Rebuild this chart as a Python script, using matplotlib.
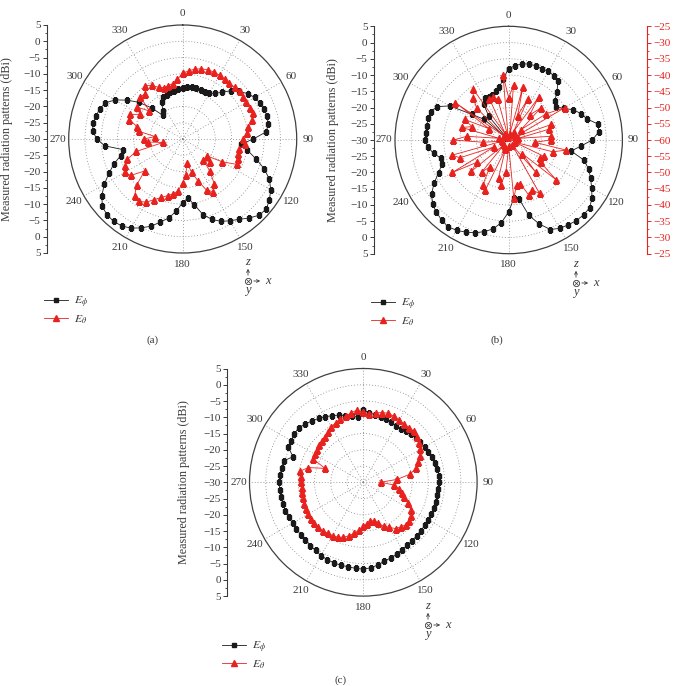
import numpy as np
import matplotlib
matplotlib.use("Agg")
import matplotlib.pyplot as plt
from matplotlib.lines import Line2D
from matplotlib.patches import FancyArrowPatch

plt.rcParams['font.family'] = 'serif'
plt.rcParams['font.serif'] = ['Liberation Serif', 'DejaVu Serif']
plt.rcParams['mathtext.fontset'] = 'stix'

# measurement angles (deg), one sample every 5 degrees
angles = np.arange(0, 360, 5)

# (a) measured patterns, dBi
a_ephi = [-14.2, -14.0, -13.9, -13.9, -14.0, -14.0, -13.8, -12.9, -11.3, -9.0, -7.3, -5.7,
          -4.5, -3.8, -3.4, -3.1, -3.4, -4.2, -8.3, -12.0, -9.8, -6.8, -3.4, -0.6,
          1.2, 2.5, 3.5, 3.1, 1.7, 0.1, -1.0, -2.1, -3.7, -6.0, -9.5, -11.8,
          -10.5, -7.8, -5.4, -3.6, -1.5, 0.1, 1.6, 2.6, 3.0, 2.9, 2.2, 0.3,
          -2.2, -5.0, -7.5, -10.3, -11.3, -6.0, -3.6, -2.3, -2.0, -2.5, -2.9, -3.8,
          -6.0, -9.2, -12.5, -16.5, -20.5, -19.5, -17.0, -15.8, -15.5, -15.2, -15.0, -14.6]
a_etheta = [-9.8, -9.0, -8.2, -7.7, -7.4, -7.3, -7.4, -7.6, -7.7, -7.5, -7.2, -7.3,
            -7.4, -7.3, -7.0, -8.0, -9.5, -10.3, -11.5, -10.8, -12.4, -12.5, -11.8, -11.5,
            -16.0, -21.0, -19.0, -21.0, -17.0, -13.0, -11.3, -12.7, -16.3, -19.5, -22.5, -19.0,
            -16.6, -14.0, -12.9, -12.0, -10.9, -9.5, -7.6, -6.6, -7.0, -10.0, -14.7, -10.5,
            -9.5, -10.5, -11.9, -15.3, -23.9, -19.3, -18.0, -21.5, -16.3, -15.5, -12.6, -12.2,
            -14.8, -13.0, -16.6, -11.6, -12.0, -10.0, -11.0, -12.5, -13.2, -13.0, -12.7, -11.6]

# (b) E_phi on the left scale, E_theta on the right (red) scale
b_ephi = [-8.0, -7.0, -6.2, -5.8, -5.7, -5.8, -5.6, -5.8, -6.3, -9.0, -11.5, -12.2,
          -10.5, -8.0, -6.3, -5.0, -2.0, -2.2, -4.3, -7.8, -10.5, -6.0, -3.8, -2.2,
          -0.5, 1.3, 2.5, 2.6, 2.4, 1.9, 1.4, 0.4, -2.5, -6.0, -11.5, -12.0,
          -7.9, -4.5, -2.2, -0.8, 0.4, 1.3, 2.1, 2.6, 2.1, 1.5, 0.6, -1.0,
          -3.5, -6.2, -8.1, -8.4, -6.5, -5.0, -4.3, -4.3, -4.4, -4.3, -4.5, -5.7,
          -9.0, -16.3, -20.1, -29.0, -20.5, -16.5, -15.2, -15.3, -15.2, -14.5, -13.5, -11.0]
b_etheta = [-47, -43, -58, -43, -52, -46, -57, -44, -50, -46, -55, -46,
            -40, -58, -46, -47, -57, -47, -47, -52, -42, -46, -58, -48,
            -49, -48, -41, -54, -47, -58, -41, -43, -42, -46, -46, -42,
            -58, -50, -46, -48, -57, -43, -44, -50, -47, -58, -45, -48,
            -40, -55, -44, -42, -58, -52, -43, -47, -57, -45, -48, -45,
            -53, -40, -58, -46, -43, -41, -58, -46, -46, -47, -59, -40]

# (c)
c_ephi = [-7.8, -8.5, -8.9, -9.1, -9.4, -9.7, -9.9, -9.9, -9.6, -9.2, -8.9, -8.6,
          -8.2, -7.9, -7.5, -7.1, -6.9, -6.6, -6.6, -6.8, -6.9, -7.0, -7.0, -6.9,
          -6.9, -6.9, -6.9, -6.8, -6.6, -6.4, -6.1, -5.7, -5.3, -4.9, -4.2, -3.6,
          -3.3, -3.4, -3.6, -3.6, -3.6, -3.8, -4.0, -4.4, -4.6, -4.8, -4.9, -4.9,
          -4.9, -4.7, -4.5, -4.4, -4.2, -4.2, -4.2, -4.3, -4.5, -4.6, -7.0, -4.6,
          -4.3, -4.1, -4.0, -4.6, -5.4, -6.0, -6.7, -7.4, -8.0, -8.8, -9.4, -9.8]
c_etheta = [-8.5, -8.9, -8.3, -7.8, -7.4, -7.6, -8.0, -8.2, -8.0, -7.9, -8.4, -9.0,
            -9.7, -10.8, -12.0, -13.3, -15.3, -19.5, -24.7, -20.5, -19.0, -17.8, -16.8, -14.7,
            -13.1, -12.0, -11.6, -11.5, -12.1, -12.6, -14.0, -15.1, -16.6, -17.8, -17.8, -17.2,
            -16.5, -15.2, -14.1, -13.0, -12.0, -11.4, -11.1, -10.9, -10.5, -10.4, -10.3, -10.2,
            -10.3, -10.5, -10.7, -10.9, -11.0, -11.0, -10.9, -10.7, -10.3, -12.5, -17.5, -12.8,
            -12.7, -12.6, -12.3, -12.0, -11.7, -11.1, -10.4, -9.8, -9.3, -9.0, -8.3, -7.7]

angle_labels = [str(a) for a in range(0, 360, 30)]

W, H = 674, 686
TXT = '#3a3a3a'
BLK = '#1a1a1a'
RED = '#e8231f'
FS = 8


def frac(x, y):
    """image pixel (origin top-left) -> figure fraction"""
    return x / W, 1 - y / H


def closed(vals):
    th = np.deg2rad(np.append(angles, angles[0]))
    return th, np.append(vals, vals[0])


def polar_panel(fig, cx, cy, R):
    ax = fig.add_axes([(cx - R) / W, 1 - (cy + R) / H, 2 * R / W, 2 * R / H],
                      projection='polar')
    ax.set_theta_zero_location('N')
    ax.set_theta_direction(-1)
    ax.set_ylim(-30, 5)
    ax.set_yticks([-25, -20, -15, -10, -5, 0])
    ax.set_yticklabels([])
    ax.set_thetagrids(range(0, 360, 30), angle_labels)
    ax.tick_params(axis='x', labelsize=FS, colors=TXT, pad=1, direction='in', length=3)
    ax.grid(True, color='#808080', lw=0.6, ls=(0, (1, 2.5)))
    ax.spines['polar'].set_color('#404040')
    ax.spines['polar'].set_linewidth(0.9)
    return ax


def draw_series(ax, vals, color, marker, ms):
    th, v = closed(vals)
    ax.plot(th, v, color=color, lw=0.6, marker=marker, ms=ms, mec=color, mfc=color)


def dbi_scale(fig, x, cy, R, offset, color, right=False):
    ax = fig.add_axes([x / W, 1 - (cy + R) / H, 0.0001, 2 * R / H])
    ax.set_ylim(-35, 35)
    ticks = np.arange(-35, 36, 5)
    ax.set_yticks(ticks)
    ax.set_yticklabels([str(abs(t) + offset).replace('-', '\u2212') for t in ticks])
    ax.set_yticks(np.arange(-32.5, 33, 5), minor=True)
    ax.xaxis.set_visible(False)
    for s in ['top', 'bottom', 'left', 'right']:
        ax.spines[s].set_visible(False)
    side = 'right' if right else 'left'
    ax.spines[side].set_visible(True)
    ax.spines[side].set_color(color)
    ax.spines[side].set_linewidth(0.8)
    if right:
        ax.yaxis.tick_right()
    ax.tick_params(axis='y', which='major', labelsize=FS, colors=color, length=3, width=0.7, pad=1.5)
    ax.tick_params(axis='y', which='minor', colors=color, length=1.5, width=0.6)
    ax.patch.set_alpha(0)
    return ax


def axes_symbol(fig, x, y):
    # small z / x / y (out of page) frame symbol, x,y = centre of the circle in pixels
    kw = dict(transform=fig.transFigure, arrowstyle='->', mutation_scale=5, lw=0.6, color=TXT)
    fig.add_artist(FancyArrowPatch(frac(x, y - 3), frac(x, y - 15), **kw))
    fig.add_artist(FancyArrowPatch(frac(x + 3, y), frac(x + 15, y), **kw))
    cxy = frac(x, y)
    fig.add_artist(Line2D([cxy[0]], [cxy[1]], marker='o', ms=4.5, mfc='white', mec=TXT, mew=0.6,
                          transform=fig.transFigure))
    fig.add_artist(Line2D([cxy[0]], [cxy[1]], marker='x', ms=2.8, mec=TXT, mew=0.5,
                          transform=fig.transFigure))
    fig.text(*frac(x, y - 19), 'z', style='italic', fontsize=FS + 1, color=TXT, ha='center', va='center')
    fig.text(*frac(x + 20, y), 'x', style='italic', fontsize=FS + 1, color=TXT, ha='center', va='center')
    fig.text(*frac(x, y + 9), 'y', style='italic', fontsize=FS + 1, color=TXT, ha='center', va='center')


def legend(fig, x, y):
    handles = [Line2D([], [], color=BLK, lw=0.6, marker='s', ms=3.2),
               Line2D([], [], color=RED, lw=0.6, marker='^', ms=3.8)]
    fig.legend(handles, [r'$E_\phi$', r'$E_\theta$'], loc='upper left', bbox_to_anchor=frac(x, y),
               frameon=False, fontsize=FS + 0.5, handlelength=2.0, handletextpad=0.5,
               labelspacing=0.25, borderpad=0, borderaxespad=0, labelcolor=TXT)


fig = plt.figure(figsize=(W / 100, H / 100), dpi=100)
ylab = 'Measured radiation patterns (dBi)'
YFS = 8.7

# panel (a)
ax_a = polar_panel(fig, 182.7, 139, 114)
draw_series(ax_a, a_ephi, BLK, 's', 3.2)
draw_series(ax_a, a_etheta, RED, '^', 3.8)
dbi_scale(fig, 46.7, 139, 114, -30, TXT)
fig.text(*frac(7, 139), ylab, rotation=90, ha='center', va='center', fontsize=YFS, color=TXT)
axes_symbol(fig, 248, 281)
legend(fig, 44, 295)
fig.text(*frac(153, 340), '(a)', ha='center', va='center', fontsize=FS, color=TXT)

# panel (b)
ax_b = polar_panel(fig, 508.7, 140, 113.7)
draw_series(ax_b, b_ephi, BLK, 's', 3.2)
ax_b2 = fig.add_axes(ax_b.get_position(), projection='polar', label='etheta_scale')
ax_b2.set_theta_zero_location('N')
ax_b2.set_theta_direction(-1)
ax_b2.set_ylim(-60, -25)
ax_b2.axis('off')
draw_series(ax_b2, b_etheta, RED, '^', 3.8)
dbi_scale(fig, 373.7, 140, 113.7, -30, TXT)
dbi_scale(fig, 647, 140, 113.7, -60, RED, right=True)
fig.text(*frac(333, 140), ylab, rotation=90, ha='center', va='center', fontsize=YFS, color=TXT)
axes_symbol(fig, 576, 283)
legend(fig, 371, 297)
fig.text(*frac(497, 340), '(b)', ha='center', va='center', fontsize=FS, color=TXT)

# panel (c)
ax_c = polar_panel(fig, 363.3, 482.3, 113.8)
draw_series(ax_c, c_ephi, BLK, 's', 3.2)
draw_series(ax_c, c_etheta, RED, '^', 3.8)
dbi_scale(fig, 227.3, 482.3, 113.8, -30, TXT)
fig.text(*frac(184, 482), ylab, rotation=90, ha='center', va='center', fontsize=YFS, color=TXT)
axes_symbol(fig, 428, 625)
legend(fig, 222, 640)
fig.text(*frac(341, 680), '(c)', ha='center', va='center', fontsize=FS, color=TXT)

fig.savefig('out.png', dpi=100)
